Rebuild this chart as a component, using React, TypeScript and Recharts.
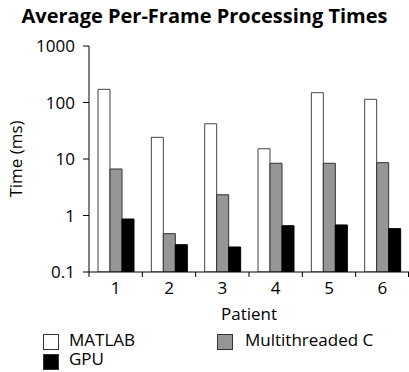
import React from "react";
import { BarChart, Bar, XAxis, YAxis } from "recharts";

const patients = ["1", "2", "3", "4", "5", "6"];
const matlab = [171, 24.2, 42, 15.2, 149, 114];
const multithreadedC = [6.65, 0.477, 2.33, 8.4, 8.4, 8.6];
const gpu = [0.867, 0.304, 0.277, 0.66, 0.68, 0.585];
const yTicks = [0.1, 1, 10, 100, 1000];

const data = patients.map((p, i) => ({
  patient: p,
  matlab: matlab[i],
  multi: multithreadedC[i],
  gpu: gpu[i],
}));

const FONT = "'Open Sans', 'Noto Sans', sans-serif";
const CHART_W = 409;
const CHART_H = 372;
const Y_AXIS_W = 89;
const MARGIN = { top: 46, right: 0, left: 0, bottom: 60 };
const PLOT_W = CHART_W - Y_AXIS_W - MARGIN.left - MARGIN.right;
const BAND = PLOT_W / patients.length;
const TICK_SIZE = 5;
const TICK_MARGIN = 6;

const legendItems = [
  { label: "MATLAB", fill: "#ffffff", left: 43, top: 334, textLeft: 69, textTop: 331.4 },
  { label: "Multithreaded C", fill: "#969696", left: 217, top: 334, textLeft: 245, textTop: 331.4 },
  { label: "GPU", fill: "#000000", left: 43, top: 354, textLeft: 69, textTop: 350.4 },
];

function CategoryTick(props: any) {
  const { x, y, payload, index } = props;
  const axisY = y - TICK_SIZE - TICK_MARGIN;
  return (
    <g>
      <line x1={x - BAND / 2} x2={x - BAND / 2} y1={axisY} y2={axisY + TICK_SIZE} stroke="#000" />
      {index === patients.length - 1 && (
        <line x1={x + BAND / 2 - 0.5} x2={x + BAND / 2 - 0.5} y1={axisY} y2={axisY + TICK_SIZE} stroke="#000" />
      )}
      <text x={x} y={y} dy={10.5} textAnchor="middle" fill="#000" fontSize={17} fontFamily={FONT}>
        {payload.value}
      </text>
    </g>
  );
}

export default function App() {
  return (
    <div style={{ position: "absolute", left: 0, top: 0, width: CHART_W, height: CHART_H, background: "#fff", fontFamily: FONT }}>
      <div
        style={{
          position: "absolute",
          left: 0,
          top: 4,
          width: CHART_W,
          textAlign: "center",
          fontWeight: 700,
          fontSize: 20,
          lineHeight: "24px",
          color: "#000",
        }}
      >
        Average Per-Frame Processing Times
      </div>
      <BarChart
        width={CHART_W}
        height={CHART_H}
        data={data}
        margin={MARGIN}
        barCategoryGap={9}
        barGap={0}
      >
        <XAxis
          dataKey="patient"
          height={40}
          interval={0}
          stroke="#000"
          axisLine={{ stroke: "#000", strokeWidth: 1 }}
          tickLine={false}
          tickSize={TICK_SIZE}
          tickMargin={TICK_MARGIN}
          tick={<CategoryTick />}
          label={{ value: "Patient", position: "insideBottom", offset: 0, fill: "#000", fontSize: 17, fontFamily: FONT, dy: 8 }}
        />
        <YAxis
          scale="log"
          domain={[0.1, 1000]}
          ticks={yTicks}
          allowDataOverflow
          width={Y_AXIS_W}
          tickSize={6}
          tickMargin={8}
          tickFormatter={(v: number) => String(v)}
          stroke="#000"
          tick={{ fill: "#000", fontSize: 17, fontFamily: FONT }}
          label={{
            value: "Time (ms)",
            angle: -90,
            position: "insideLeft",
            offset: 16,
            style: { textAnchor: "middle" },
            fill: "#000",
            fontSize: 17,
            fontFamily: FONT,
          }}
        />
        <Bar dataKey="matlab" fill="#ffffff" stroke="#444" strokeWidth={1} isAnimationActive={false} />
        <Bar dataKey="multi" fill="#969696" stroke="#333" strokeWidth={1} isAnimationActive={false} />
        <Bar dataKey="gpu" fill="#000000" stroke="#000" strokeWidth={1} isAnimationActive={false} />
      </BarChart>
      {legendItems.map((it) => (
        <React.Fragment key={it.label}>
          <div
            style={{
              position: "absolute",
              left: it.left,
              top: it.top,
              width: 14,
              height: 14,
              background: it.fill,
              border: "1px solid #333",
            }}
          />
          <div
            style={{
              position: "absolute",
              left: it.textLeft,
              top: it.textTop,
              fontSize: 17,
              lineHeight: "18px",
              color: "#000",
              whiteSpace: "nowrap",
            }}
          >
            {it.label}
          </div>
        </React.Fragment>
      ))}
    </div>
  );
}
